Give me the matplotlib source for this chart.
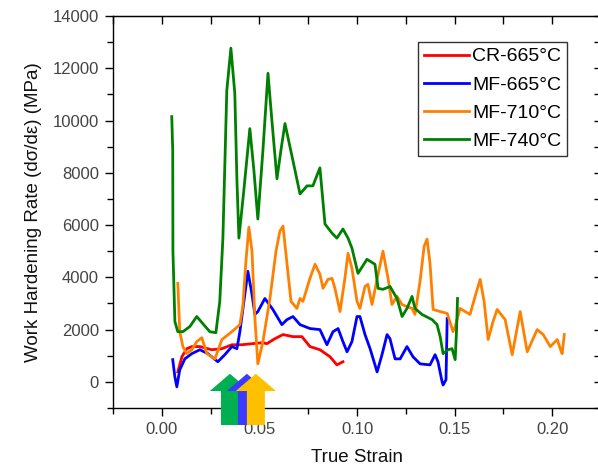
import matplotlib
matplotlib.use("Agg")
import matplotlib.pyplot as plt
from matplotlib.patches import Polygon
from matplotlib.ticker import MultipleLocator, FormatStrFormatter

plt.rcParams['font.family'] = ['Liberation Sans', 'DejaVu Sans']

# ---- data ----
cr665_strain = [0.0082, 0.0103, 0.0128, 0.0154, 0.0195, 0.0256, 0.0308, 0.0359, 0.0410, 0.0462,
                0.0518, 0.0538, 0.0579, 0.0621, 0.0672, 0.0718, 0.0759, 0.0810, 0.0862, 0.0897, 0.0928]
cr665_rate = [380, 960, 1270, 1350, 1350, 1230, 1270, 1420, 1420, 1460,
              1500, 1460, 1650, 1810, 1730, 1730, 1350, 1230, 960, 650, 770]

mf665_strain = [0.0056, 0.0067, 0.0077, 0.0092, 0.0118, 0.0154, 0.0195, 0.0236, 0.0287, 0.0323,
                0.0359, 0.0385, 0.0400, 0.0426, 0.0441, 0.0462, 0.0477, 0.0492, 0.0528, 0.0569,
                0.0615, 0.0641, 0.0672, 0.0708, 0.0759, 0.0810, 0.0846, 0.0877, 0.0903, 0.0928,
                0.0949, 0.0974, 0.1000, 0.1015, 0.1041, 0.1067, 0.1103, 0.1128, 0.1154, 0.1169,
                0.1195, 0.1221, 0.1256, 0.1287, 0.1323, 0.1374, 0.1400, 0.1415, 0.1436, 0.1441,
                0.1456, 0.1462]
mf665_rate = [850, 190, -190, 460, 880, 1080, 1230, 1080, 770, 1040,
              1350, 1270, 1920, 3380, 4230, 3350, 2580, 2690, 3190, 2770,
              2190, 2380, 2500, 2190, 2040, 2000, 1420, 1920, 2040, 1540,
              1150, 1540, 2500, 2500, 1810, 1270, 380, 1040, 1810, 1650,
              880, 880, 1350, 960, 690, 650, 1040, 770, 0, -120,
              80, 2420]

mf710_strain = [0.0082, 0.0092, 0.0108, 0.0128, 0.0154, 0.0179, 0.0205, 0.0231, 0.0272, 0.0308,
                0.0359, 0.0400, 0.0415, 0.0431, 0.0446, 0.0462, 0.0477, 0.0492, 0.0518, 0.0554,
                0.0585, 0.0605, 0.0621, 0.0641, 0.0662, 0.0692, 0.0708, 0.0723, 0.0759, 0.0785,
                0.0810, 0.0826, 0.0851, 0.0872, 0.0887, 0.0913, 0.0938, 0.0954, 0.0974, 0.1000,
                0.1015, 0.1041, 0.1056, 0.1077, 0.1108, 0.1133, 0.1159, 0.1179, 0.1205, 0.1231,
                0.1256, 0.1282, 0.1297, 0.1323, 0.1344, 0.1359, 0.1374, 0.1390, 0.1426, 0.1462,
                0.1492, 0.1503, 0.1528, 0.1554, 0.1579, 0.1605, 0.1631, 0.1651, 0.1672, 0.1697,
                0.1718, 0.1759, 0.1795, 0.1836, 0.1872, 0.1923, 0.1954, 0.1990, 0.2026, 0.2041,
                0.2051, 0.2062]
mf710_rate = [3770, 1920, 1350, 1080, 1230, 1540, 1690, 1080, 880, 1620,
              1920, 2190, 2880, 4620, 5920, 5000, 2420, 690, 1540, 3190,
              5000, 5770, 5960, 4540, 3080, 2810, 3190, 3080, 3960, 4500,
              4120, 3580, 3920, 3960, 3580, 2690, 3960, 4920, 4350, 3080,
              2810, 3650, 3730, 2960, 4120, 5000, 3960, 2960, 3270, 2960,
              2880, 2810, 2580, 3850, 5190, 5460, 4540, 2770, 2690, 2620,
              1920, 2120, 2810, 2690, 2580, 3270, 3920, 3080, 1620, 2310,
              2770, 2380, 1040, 2690, 1150, 2000, 1810, 1350, 1620, 1270,
              1080, 1810]

mf740_strain = [0.0051, 0.0056, 0.0057, 0.0067, 0.0082, 0.0108, 0.0144, 0.0179, 0.0210, 0.0246,
                0.0277, 0.0297, 0.0313, 0.0333, 0.0354, 0.0374, 0.0385, 0.0395, 0.0420, 0.0451,
                0.0472, 0.0492, 0.0518, 0.0544, 0.0564, 0.0590, 0.0610, 0.0631, 0.0672, 0.0708,
                0.0744, 0.0774, 0.0810, 0.0836, 0.0872, 0.0897, 0.0928, 0.0954, 0.0974, 0.1005,
                0.1051, 0.1092, 0.1108, 0.1133, 0.1169, 0.1205, 0.1231, 0.1256, 0.1282, 0.1297,
                0.1333, 0.1385, 0.1410, 0.1426, 0.1441, 0.1467, 0.1487, 0.1503, 0.1510, 0.1515]
mf740_rate = [10150, 8850, 5000, 2310, 1920, 1920, 2120, 2500, 2230, 1920,
              1880, 3080, 5500, 11150, 12770, 11040, 7690, 5500, 7310, 9690,
              8080, 6230, 8850, 11810, 10000, 7770, 8850, 9885, 8460, 7190,
              7500, 7500, 8190, 6040, 5690, 5500, 5850, 5500, 5120, 4150,
              4690, 4500, 3580, 3540, 3650, 3190, 2500, 2810, 3270, 2810,
              2580, 2380, 2190, 1730, 1080, 1230, 1270, 850, 2000, 3190]

labels = ['CR-665°C', 'MF-665°C', 'MF-710°C', 'MF-740°C']
colors = ['#FF0000', '#0000FF', '#FF8000', '#008000']

# ---- figure ----
fig = plt.figure(figsize=(5.98, 4.68), dpi=100)
ax = fig.add_axes([113/598, 1-408/468, (601-113)/598, (408-16)/468])

series = [(cr665_strain, cr665_rate), (mf665_strain, mf665_rate),
          (mf710_strain, mf710_rate), (mf740_strain, mf740_rate)]
for (xs, ys), lab, c in zip(series, labels, colors):
    ax.plot(xs, ys, color=c, lw=2.0, label=lab, solid_joinstyle='round')

ax.set_xlim(-0.025, 0.225)
ax.set_ylim(-1000, 14000)

ax.xaxis.set_major_locator(MultipleLocator(0.05))
ax.xaxis.set_minor_locator(MultipleLocator(0.025))
ax.xaxis.set_major_formatter(FormatStrFormatter('%.2f'))
ax.yaxis.set_major_locator(MultipleLocator(2000))
ax.yaxis.set_minor_locator(MultipleLocator(1000))

ax.tick_params(which='both', direction='out', colors='black', labelcolor='#444444',
               labelsize=12, width=1)
ax.tick_params(which='major', length=6, pad=4)
ax.tick_params(which='minor', length=4)
ax.tick_params(which='both', top=False, right=False)
for sp in ax.spines.values():
    sp.set_linewidth(1)

# inward mirror ticks on top and right
secx = ax.secondary_xaxis('top')
secx.xaxis.set_major_locator(MultipleLocator(0.025))
secx.tick_params(direction='in', length=6, labeltop=False, width=1)
secx.set_xticklabels([])
secy = ax.secondary_yaxis('right')
secy.yaxis.set_major_locator(MultipleLocator(1000))
secy.tick_params(direction='in', length=5, labelright=False, width=1)
secy.set_yticklabels([])

ax.set_xlabel('True Strain', fontsize=13.5, color='#111111', labelpad=9)
ax.set_ylabel('Work Hardening Rate (dσ/dε) (MPa)', fontsize=13.5, color='#111111', labelpad=8)

leg = ax.legend(loc='upper right', bbox_to_anchor=(0.930, 0.934), borderaxespad=0,
                fontsize=14, frameon=True, fancybox=False, handlelength=2.3,
                handletextpad=0.15, labelspacing=0.55, borderpad=0.3)
leg.get_frame().set_edgecolor('black')
leg.get_frame().set_linewidth(1)

# ---- arrows (annotation) ----
def up_arrow(xc, color, z):
    hs, hh = 0.0046, 0.0103
    tip, base, bot = 310, -350, -1650
    pts = [(xc - hs, bot), (xc - hs, base), (xc - hh, base), (xc, tip),
           (xc + hh, base), (xc + hs, base), (xc + hs, bot)]
    ax.add_patch(Polygon(pts, closed=True, facecolor=color, edgecolor='none',
                         clip_on=False, zorder=z))

up_arrow(0.0349, '#00B050', 10)
up_arrow(0.0436, '#3B3BFF', 11)
up_arrow(0.0482, '#FFC000', 12)

fig.savefig('out.png', dpi=100)
